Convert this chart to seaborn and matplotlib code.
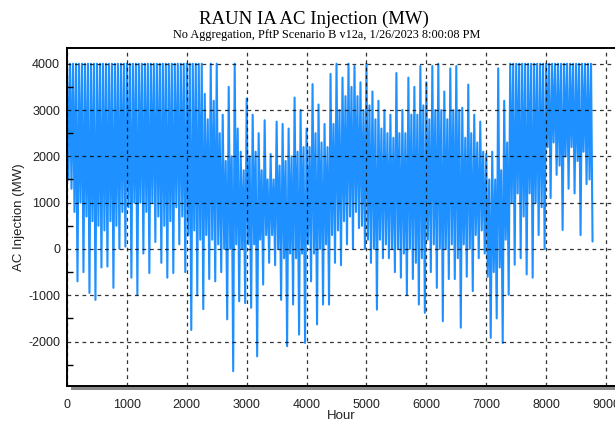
import numpy as np
import pandas as pd
import matplotlib
matplotlib.use("Agg")
import matplotlib.pyplot as plt
from matplotlib.ticker import MultipleLocator
from matplotlib.patches import Rectangle
import seaborn as sns

# Hourly series summarised per 100-hour block:
# highest spike, lower / upper edge of the dense mass, lowest spike
hour_bins = list(range(0, 8800, 100))
peak_mw = [
    4000, 4000, 4000, 4000, 4000, 4000, 4000, 4000, 4000, 4000,   # 0-900
    4000, 4000, 4000, 4000, 4000, 4000, 4000, 4000, 4000, 4000,   # 1000-1900
    4000, 4000, 4000, 3350, 4000, 4000, 2900, 3500, 4000, 2100,   # 2000-2900
    3250, 2900, 2500, 2780, 2050, 2750, 2700, 2600, 3270, 3000,   # 3000-3900
    2600, 3560, 3120, 2700, 3780, 4000, 3700, 4000, 3950, 3600,   # 4000-4900
    4000, 3400, 3200, 3000, 2900, 3800, 3000, 3700, 3500, 3950,   # 5000-5900
    3600, 3950, 4000, 3400, 3900, 3950, 3050, 3550, 2900, 2750,   # 6000-6900
    2050, 2100, 3900, 3200, 4000, 4000, 4000, 4000, 4000, 4000,   # 7000-7900
    4000, 4000, 4000, 4000, 4000, 4000, 4000, 4000,               # 8000-8700
]
mass_low_mw = [
    1500, 800, 1000, 700, 600, 500, 400, 600, 500, 800,
    900, 1000, 1000, 800, 1000, 700, 500, 600, 900, 700,
    300, 400, 200, 300, 200, 100, 0, 0, 100, 0,
    100, 100, 200, 300, 300, 0, -200, -100, -200, -100,
    100, -100, 0, 100, 300, 400, 600, 700, 800, 500,
    200, 0, 200, 100, 0, 0, -100, 0, -300, -200,
    200, 100, 0, 0, 100, -200, 100, 0, 300, 400,
    -600, -500, -400, 200, 1000, 1200, 700, 1200, 1000, 900,
    2200, 2300, 1800, 2000, 2200, 1900, 2100, 1500,
]
mass_high_mw = [
    4000, 4000, 4000, 4000, 4000, 4000, 4000, 4000, 4000, 4000,
    4000, 4000, 4000, 4000, 4000, 4000, 4000, 4000, 4000, 4000,
    4000, 4000, 4000, 2800, 3200, 2500, 1900, 2000, 2600, 1700,
    2000, 2100, 1700, 1500, 1500, 1800, 1900, 2000, 2100, 2200,
    2200, 2500, 2300, 2200, 2700, 3000, 3300, 3500, 3300, 3000,
    3100, 2800, 2600, 2500, 2400, 2500, 2500, 2900, 2900, 3100,
    2800, 3000, 3000, 2800, 3000, 3000, 2400, 2500, 2300, 2100,
    1500, 1500, 1700, 2300, 4000, 4000, 4000, 4000, 4000, 4000,
    4000, 4000, 4000, 4000, 4000, 4000, 4000, 4000,
]
trough_mw = [
    1300, -700, -500, -950, -1100, -400, -380, -840, 0, 50,
    -620, -990, -100, -520, 150, -300, -620, -520, 100, -500,
    -1750, -1000, -1300, -650, -700, -500, -1520, -2640, -1130, -1170,
    -1270, -2320, -770, -300, -350, -1100, -2100, -1200, -1850, -2030,
    -700, -1630, -1200, -1200, -300, -350, 100, 0, 450, 0,
    -300, -1310, -200, -200, -500, -620, -990, -650, -1200, -1380,
    -500, -840, -1560, -650, -650, -1700, -600, -910, -200, -100,
    -1920, -1500, -2030, -990, -340, -200, -550, -620, 300, 0,
    1100, 1600, 410, 1300, 1200, 300, 1400, 160,
]

x_ticks = list(range(0, 9001, 1000))
y_ticks = list(range(-2000, 4001, 1000))

# within each block the line visits peak, mass low, mass high and trough in turn
bins = np.array(hour_bins)
hour = np.ravel(np.column_stack([bins, bins + 25, bins + 50, bins + 75]))
mw = np.ravel(np.column_stack([peak_mw, mass_low_mw, mass_high_mw, trough_mw]))
df = pd.DataFrame({"Hour": hour, "AC Injection (MW)": mw})

sns.set_theme(style="white")
plt.rcParams["font.family"] = ["Liberation Sans", "DejaVu Sans"]
plt.rcParams["axes.unicode_minus"] = False

fig = plt.figure(figsize=(6.15, 4.22), dpi=100)
ax = fig.add_axes([67 / 615, 1 - 386 / 422, 548 / 615, 338 / 422])

sns.lineplot(data=df, x="Hour", y="AC Injection (MW)", ax=ax, color="#1E90FF",
             lw=1.5, estimator=None, sort=False)

ax.set_xlim(0, 9150)
ax.set_ylim(-2960, 4340)
ax.set_xticks(x_ticks)
ax.set_yticks(y_ticks)
ax.xaxis.set_minor_locator(MultipleLocator(200))
ax.yaxis.set_minor_locator(MultipleLocator(500))
ax.tick_params(axis="x", which="both", direction="in", length=4, width=1,
               color="black", pad=9, labelsize=9)
ax.tick_params(axis="y", which="major", direction="out", length=4, width=1,
               color="black", pad=1, labelsize=9)
ax.tick_params(axis="y", which="minor", direction="in", length=4, width=1,
               color="black", left=True)
ax.tick_params(axis="both", labelcolor="#222222")

ax.set_axisbelow(False)
ax.grid(True, which="major", ls=(0, (3, 3)), color="black", lw=0.9, alpha=0.8)

for side in ["left", "bottom", "top"]:
    ax.spines[side].set_color("black")
    ax.spines[side].set_linewidth(1.4)
ax.spines["right"].set_visible(False)

# grey strip under the hour axis
ax.add_patch(Rectangle((0.007, -0.012), 0.993, 0.008, transform=ax.transAxes,
                       color="#8a8a8a", clip_on=False, lw=0))

ax.set_xlabel("Hour", fontsize=9.5, color="#222222")
ax.xaxis.set_label_coords(0.5, -0.07)
ax.xaxis.label.set_va("top")
ax.set_ylabel("AC Injection (MW)", fontsize=9.5, color="#222222")
ax.yaxis.set_label_coords(-0.076, 0.5)

fig.text(314 / 615, 1 - 23.5 / 422, "RAUN IA AC Injection (MW)", ha="center",
         va="baseline", fontsize=13.5, family="Liberation Serif", color="black")
fig.text(327 / 615, 1 - 37.8 / 422,
         "No Aggregation, PftP Scenario B v12a, 1/26/2023 8:00:08 PM",
         ha="center", va="baseline", fontsize=8.8, family="Liberation Serif",
         color="black")

fig.savefig("out.png", dpi=100)
